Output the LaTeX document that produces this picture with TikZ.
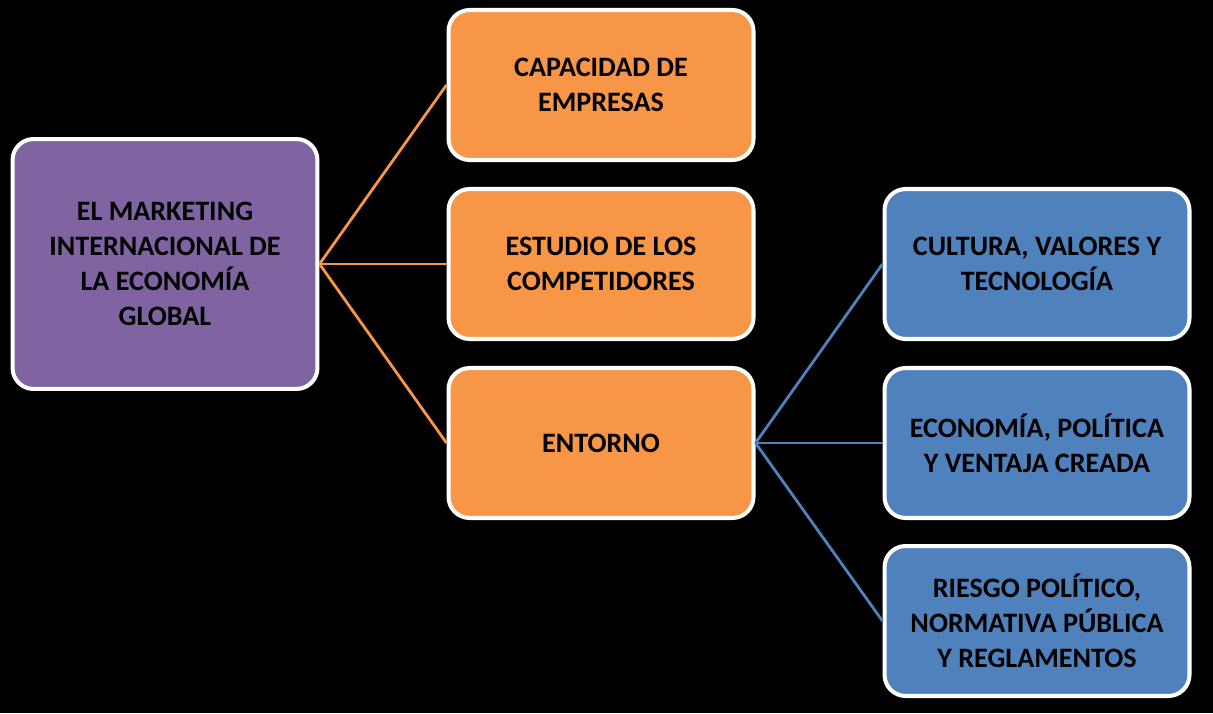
\documentclass[tikz,border=0pt]{standalone}
\usepackage{fontspec}
\setmainfont{Carlito}
\usetikzlibrary{positioning}
\definecolor{purplebox}{HTML}{8064A2}
\definecolor{orangebox}{HTML}{F79646}
\definecolor{bluebox}{HTML}{4F81BD}
\tikzset{
  box/.style={rectangle,rounded corners=12pt,draw=white,line width=2.3pt,
    minimum width=6.1cm,minimum height=3.0cm,align=center,
    font=\fontsize{16}{20}\selectfont\bfseries},
  root/.style={box,fill=purplebox,minimum height=5.0cm},
  obox/.style={box,fill=orangebox},
  bbox/.style={box,fill=bluebox},
  olink/.style={draw=orangebox,line width=1.6pt},
  blink/.style={draw=bluebox,line width=1.6pt}
}
\begin{document}
\begin{tikzpicture}[x=0.02cm,y=-0.02cm]
  \fill[black] (0,0) rectangle (1213,713);
  \useasboundingbox (0,0) rectangle (1213,713);

  % root
  \node[root] (mkt) at (165,264) {EL MARKETING\\INTERNACIONAL DE\\LA ECONOMÍA\\GLOBAL};

  % second level
  \node[obox] (cap) at (601,85) {CAPACIDAD DE\\EMPRESAS};
  \node[obox] (comp) at (601,264) {ESTUDIO DE LOS\\COMPETIDORES};
  \node[obox] (ent) at (601,443) {ENTORNO};

  % third level
  \node[bbox] (cul) at (1037,264) {CULTURA, VALORES Y\\TECNOLOGÍA};
  \node[bbox] (eco) at (1037,443) {ECONOMÍA, POLÍTICA\\Y VENTAJA CREADA};
  \node[bbox] (rie) at (1037,621) {RIESGO POLÍTICO,\\NORMATIVA PÚBLICA\\Y REGLAMENTOS};

  \path[olink] (mkt.east) -- (cap.west);
  \path[olink] (mkt.east) -- (comp.west);
  \path[olink] (mkt.east) -- (ent.west);

  \path[blink] (ent.east) -- (cul.west);
  \path[blink] (ent.east) -- (eco.west);
  \path[blink] (ent.east) -- (rie.west);
\end{tikzpicture}
\end{document}
